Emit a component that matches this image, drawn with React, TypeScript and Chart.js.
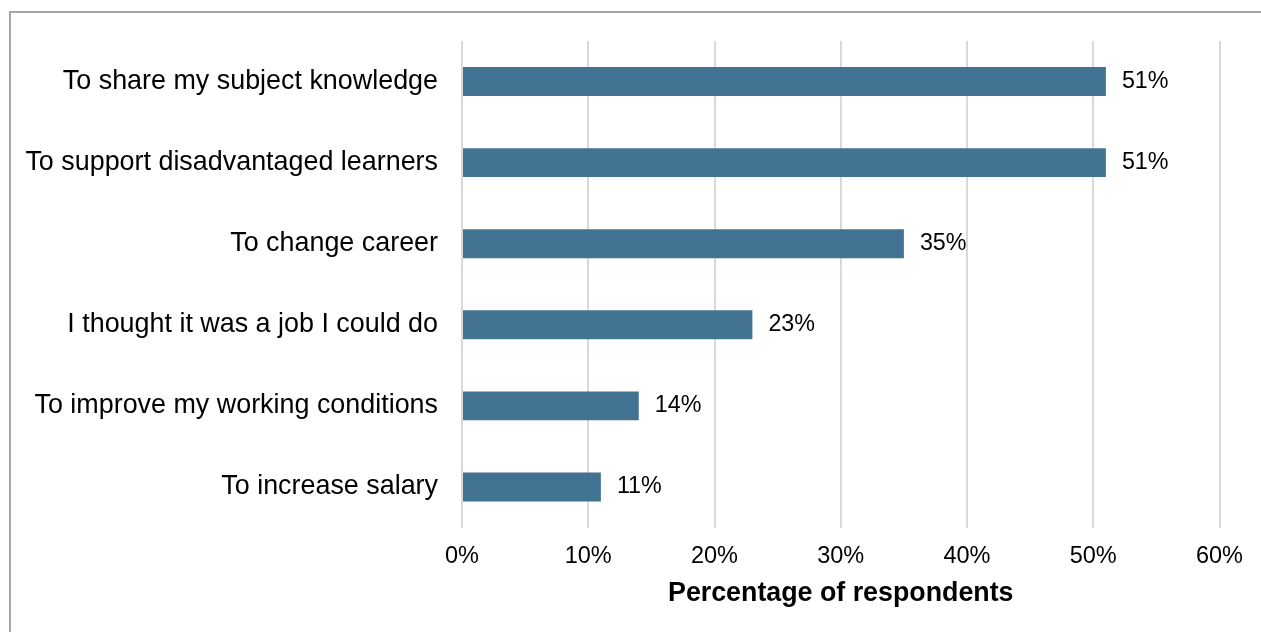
import React, { useEffect, useRef } from "react";
import { Chart, registerables } from "chart.js";

Chart.register(...registerables);

const categories = [
  "To share my subject knowledge",
  "To support disadvantaged learners",
  "To change career",
  "I thought it was a job I could do",
  "To improve my working conditions",
  "To increase salary",
];
const values = [51, 51, 35, 23, 14, 11];
const xTicks = [0, 10, 20, 30, 40, 50, 60];
const axisTitle = "Percentage of respondents";

const FONT = "'Liberation Sans', Arial, sans-serif";

const dataLabels = {
  id: "dataLabels",
  afterDatasetsDraw(chart: any) {
    const ctx = chart.ctx;
    const meta = chart.getDatasetMeta(0);
    ctx.save();
    ctx.font = `23.3px ${FONT}`;
    ctx.fillStyle = "#000";
    ctx.textAlign = "left";
    ctx.textBaseline = "middle";
    meta.data.forEach((bar: any, i: number) => {
      ctx.fillText(`${values[i]}%`, bar.x + 16, bar.y);
    });
    ctx.restore();
  },
};

export default function App() {
  const ref = useRef<HTMLCanvasElement>(null);
  useEffect(() => {
    if (!ref.current) return;
    const chart = new Chart(ref.current, {
      type: "bar",
      data: {
        labels: categories,
        datasets: [
          {
            data: values,
            backgroundColor: "#437393",
            categoryPercentage: 1,
            barPercentage: 0.357,
          },
        ],
      },
      options: {
        indexAxis: "y",
        animation: false,
        responsive: false,
        layout: { padding: { top: 28, right: 41.5, left: 0, bottom: 0 } },
        plugins: { legend: { display: false }, tooltip: { enabled: false } },
        scales: {
          x: {
            min: 0,
            max: 60,
            afterBuildTicks: (scale: any) => {
              scale.ticks = xTicks.map((v) => ({ value: v }));
            },
            afterFit: (scale: any) => {
              scale.height = 104.5;
            },
            grid: { color: "#d9d9d9", lineWidth: 2, drawTicks: false },
            border: { display: false },
            ticks: {
              padding: 15,
              color: "#000",
              font: { family: FONT, size: 23.5 },
              callback: (v: any) => `${v}%`,
            },
            title: {
              display: true,
              text: axisTitle,
              color: "#000",
              font: { family: FONT, size: 26.8, weight: "bold" },
              padding: { top: 4, bottom: 22 },
            },
          },
          y: {
            afterFit: (scale: any) => {
              scale.width = 451;
              scale.paddingTop = 0;
              scale.paddingBottom = 0;
            },
            grid: { display: false, drawTicks: false },
            border: { display: false },
            ticks: {
              padding: 24,
              color: "#000",
              font: { family: FONT, size: 26.9 },
            },
          },
        },
      },
      plugins: [dataLabels],
    });
    return () => chart.destroy();
  }, []);

  return (
    <div
      style={{
        position: "fixed",
        left: 9,
        top: 11,
        width: 1300,
        height: 700,
        borderLeft: "2px solid #a6a6a6",
        borderTop: "2px solid #a6a6a6",
        boxSizing: "border-box",
        background: "#fff",
      }}
    >
      <canvas ref={ref} width={1250} height={619} style={{ display: "block" }} />
    </div>
  );
}
